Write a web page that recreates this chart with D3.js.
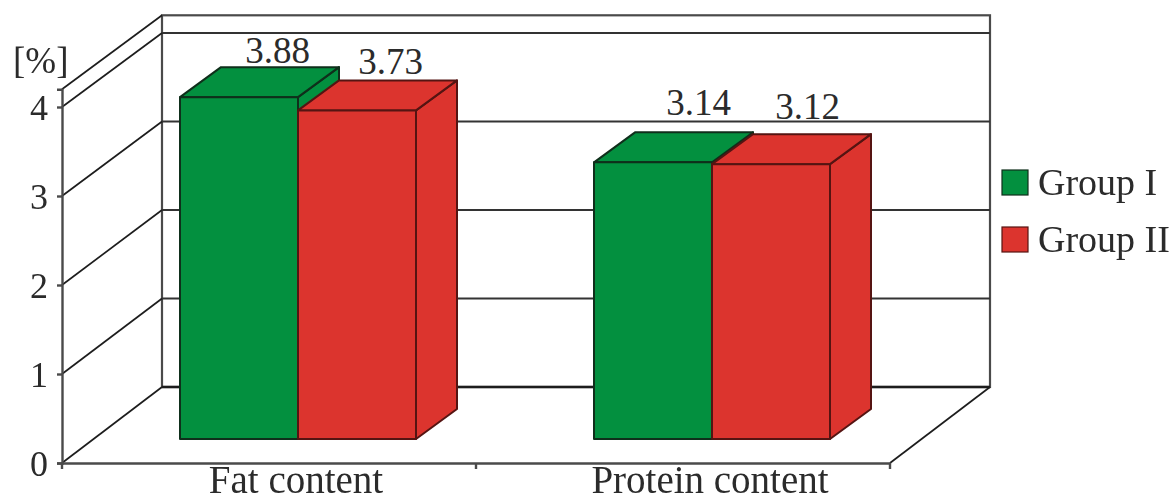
<!DOCTYPE html>
<html>
<head>
<meta charset="utf-8">
<script src="https://cdn.jsdelivr.net/npm/d3@7"></script>
<style>
    html, body { margin: 0; padding: 0; background: #fff; overflow: hidden; }
    svg { display: block; filter: blur(0.5px); }
    text { font-family: "Liberation Serif", serif; fill: #2b2b2b; }
</style>
</head>
<body>
<div id="chart-container"></div>
<script>
const categories = ['Fat content', 'Protein content']
const groups = ['Group I', 'Group II']
const groupOne = [3.88, 3.14]
const groupTwo = [3.73, 3.12]
const yTicks = [0, 1, 2, 3, 4]
const yMax = 4.2
const yUnit = '[%]'

const width = 1173
const height = 497
const colour = d3.scaleOrdinal().domain(groups).range(['#03903f', '#dc342e'])
const barStroke = d3.scaleOrdinal().domain(groups).range(['#0f2f1b', '#551412'])
const lineColour = '#1d1d1d'
const axisColour = '#4a4a4a'

// the floor goes back by this much, the bars sit part way along it
const depthX = 100
const depthY = -76
const barDepthX = 41
const barDepthY = -30
const barOffsetX = 29

const chart = d3.select('#chart-container')
    .append('svg')
    .attr('id', 'chart')
    .attr('width', width)
    .attr('height', height)

const x = d3.scaleBand().domain(categories).range([62, 890])
const xGroup = d3.scaleBand().domain(groups).range([0, 236])
const y = d3.scaleLinear().domain([0, yMax]).range([463, 463 - yMax * 89])
const yBack = d3.scaleLinear().domain([0, yMax]).range([463 + depthY, 463 + depthY - yMax * 88.5])
const yBar = d3.scaleLinear().domain([0, yMax]).range([439, 439 - yMax * 88.1])

const wallLeft = x.range()[0] + depthX
const wallRight = x.range()[1] + depthX

// back wall and grid
const wall = chart.append('g').attr('class', 'wall')

wall.append('rect')
    .attr('x', wallLeft)
    .attr('y', yBack(yMax))
    .attr('width', wallRight - wallLeft)
    .attr('height', yBack(0) - yBack(yMax))
    .attr('fill', 'white')
    .attr('stroke', axisColour)
    .attr('stroke-width', 2.2)

wall.selectAll('.grid')
    .data(yTicks.slice(1))
    .join('line')
    .attr('class', 'grid')
    .attr('x1', wallLeft)
    .attr('x2', wallRight)
    .attr('y1', d => yBack(d))
    .attr('y2', d => yBack(d))
    .attr('stroke', '#333')
    .attr('stroke-width', 1.8)

wall.append('line')
    .attr('x1', wallLeft)
    .attr('x2', wallRight)
    .attr('y1', yBack(0))
    .attr('y2', yBack(0))
    .attr('stroke', lineColour)
    .attr('stroke-width', 2.6)

// side wall lines, including the top one
wall.selectAll('.side')
    .data([...yTicks, yMax])
    .join('line')
    .attr('class', 'side')
    .attr('x1', x.range()[0])
    .attr('x2', wallLeft)
    .attr('y1', d => y(d))
    .attr('y2', d => yBack(d))
    .attr('stroke', lineColour)
    .attr('stroke-width', 1.7)

wall.append('line')
    .attr('x1', x.range()[1])
    .attr('x2', wallRight)
    .attr('y1', y(0))
    .attr('y2', yBack(0))
    .attr('stroke', lineColour)
    .attr('stroke-width', 1.7)

// bars
const barData = categories.flatMap((category, i) => [
    { category, group: groups[0], value: groupOne[i] },
    { category, group: groups[1], value: groupTwo[i] }
])

const polygon = points => points.map(p => p.join(',')).join(' ')

const bars = chart.append('g')
    .attr('class', 'bars')
    .selectAll('.bar')
    .data(barData)
    .join('g')
    .attr('class', 'bar')
    .attr('fill', d => colour(d.group))
    .attr('stroke', d => barStroke(d.group))
    .attr('stroke-width', 2)
    .attr('stroke-linejoin', 'round')

const barLeft = d => x(d.category) + x.bandwidth() / 2 - xGroup.range()[1] / 2 + barOffsetX + xGroup(d.group)
const barRight = d => barLeft(d) + xGroup.bandwidth()

bars.append('polygon')
    .attr('class', 'side-face')
    .attr('points', d => polygon([
        [barRight(d), yBar(d.value)],
        [barRight(d) + barDepthX, yBar(d.value) + barDepthY],
        [barRight(d) + barDepthX, yBar(0) + barDepthY],
        [barRight(d), yBar(0)]
    ]))

bars.append('polygon')
    .attr('class', 'top-face')
    .attr('points', d => polygon([
        [barLeft(d), yBar(d.value)],
        [barLeft(d) + barDepthX, yBar(d.value) + barDepthY],
        [barRight(d) + barDepthX, yBar(d.value) + barDepthY],
        [barRight(d), yBar(d.value)]
    ]))

bars.append('rect')
    .attr('class', 'front-face')
    .attr('x', barLeft)
    .attr('y', d => yBar(d.value))
    .attr('width', xGroup.bandwidth())
    .attr('height', d => yBar(0) - yBar(d.value))

// value labels were placed by hand in the original, so each has its own nudge
const labelNudge = [[18, -4], [13, -6], [25, -17], [16, -15]]

chart.append('g')
    .attr('class', 'value-labels')
    .selectAll('text')
    .data(barData)
    .join('text')
    .attr('x', (d, i) => barLeft(d) + (xGroup.bandwidth() + barDepthX) / 2 + labelNudge[i][0])
    .attr('y', (d, i) => yBar(d.value) + barDepthY + labelNudge[i][1])
    .attr('text-anchor', 'middle')
    .attr('font-size', 37)
    .text(d => d3.format('.2f')(d.value))

// axes
const yAxis = chart.append('g')
    .attr('class', 'y-axis')
    .attr('transform', `translate(${x.range()[0]},0)`)
    .call(d3.axisLeft(y).tickValues(yTicks).tickFormat(d3.format('d')).tickSize(5).tickPadding(9))

yAxis.selectAll('text').attr('font-size', 36).attr('dy', '0.34em')

const xAxis = chart.append('g')
    .attr('class', 'x-axis')
    .attr('transform', `translate(0,${y(0)})`)
    .call(d3.axisBottom(x).tickSize(0).tickPadding(0))

xAxis.selectAll('text')
    .attr('font-size', 39)
    .attr('dx', 27)
    .attr('dy', 0)
    .attr('y', 29.5)

xAxis.selectAll('.edge-tick')
    .data([...categories.map(d => x(d)), x.range()[1]])
    .join('line')
    .attr('class', 'edge-tick')
    .attr('x1', d => d)
    .attr('x2', d => d)
    .attr('y1', 0)
    .attr('y2', 6)

chart.selectAll('.domain, .y-axis line, .x-axis line')
    .attr('stroke', axisColour)
    .attr('stroke-width', 2.4)

chart.append('text')
    .attr('x', 13)
    .attr('y', 73)
    .attr('font-size', 37)
    .text(yUnit)

// legend
const legend = chart.append('g')
    .attr('class', 'legend')
    .selectAll('g')
    .data(groups)
    .join('g')
    .attr('transform', (d, i) => `translate(1002,${170 + i * 57})`)

legend.append('rect')
    .attr('width', 26)
    .attr('height', 25)
    .attr('fill', d => colour(d))
    .attr('stroke', d => barStroke(d))
    .attr('stroke-width', 1.2)

legend.append('text')
    .attr('x', 36)
    .attr('y', 25)
    .attr('font-size', 38)
    .text(d => d)
</script>
</body>
</html>
